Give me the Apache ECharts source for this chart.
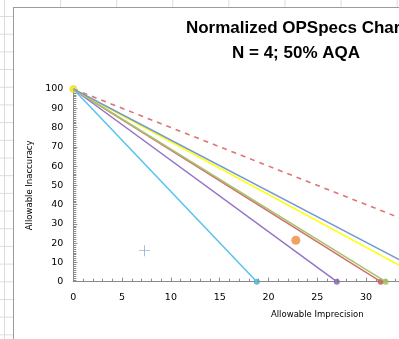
<!DOCTYPE html>
<html>
<head>
<meta charset="utf-8">
<script src="https://cdn.jsdelivr.net/npm/echarts@6/dist/echarts.min.js"></script>
<style>
  html, body { margin: 0; padding: 0; overflow: hidden; width: 399px; height: 339px; }
  body {
    background-color: #fff;
    background-image:
      linear-gradient(to right, #dcdcdc 1px, transparent 1px),
      linear-gradient(to bottom, #dcdcdc 1px, transparent 1px);
    background-size: 56.1px 17.7px;
    background-position: 4px 16px;
  }
  #frame { position: absolute; left: 13px; top: 7px; width: 600px; height: 400px;
           background: #fff; border: 1px solid #9c9c9c; }
  #main { position: absolute; left: 0; top: 0; width: 592px; height: 400px; }
</style>
</head>
<body>
<div id="frame"></div>
<div id="main"></div>
<script>
// x-intercepts of the OPSpecs lines (all start at 0,100)
var lineNames = ['Cyan', 'Purple', 'Red', 'Green', 'Yellow', 'Blue'];
var lineEnds = [18.8, 27, 31.5, 32, 36.5, 37.7];
var lineColors = ['#55c3ef', '#9473c8', '#d2706c', '#a6c46c', '#ffff00', '#7199d6'];
var dotColors = ['#4aa9c4', '#7d61a0', '#c0504d', '#9bbb59', '#e8d800', '#4f81bd'];
var showEndDot = [true, true, true, true, false, false];
// dashed limit line
var dashedEnd = 50;
// single points
var originPoint = [0, 100];
var orangePoint = [22.8, 21.5];
var plusPoint = [7.3, 16.1];

var xTicks = { min: 0, max: 50, interval: 5 };
var yTicks = { min: 0, max: 100, interval: 10 };

var series = [];
series.push({
  type: 'line', symbol: 'none', silent: true,
  data: [[0, 100], [dashedEnd, 0]],
  lineStyle: { color: '#e07474', width: 1.6, type: [5, 5] }
});
lineNames.forEach(function (n, i) {
  series.push({
    name: n, type: 'line', symbol: 'none',
    data: [[0, 100], [lineEnds[i], 0]],
    lineStyle: { color: lineColors[i], width: 1.5 }
  });
  if (showEndDot[i]) {
    series.push({
      type: 'scatter', symbolSize: 6,
      data: [[lineEnds[i], 0]],
      itemStyle: { color: dotColors[i] }
    });
  }
});
series.push({
  type: 'scatter', symbolSize: 7, data: [originPoint],
  itemStyle: { color: '#f2e600', borderColor: '#d8c000', borderWidth: 0.5 }
});
series.push({
  type: 'scatter', symbolSize: 9, data: [orangePoint],
  itemStyle: { color: '#f0883a' }
});
series.push({
  type: 'scatter', symbolSize: 11, data: [plusPoint],
  symbol: 'path://M4.6,0H5.4V4.6H10V5.4H5.4V10H4.6V5.4H0V4.6H4.6Z',
  itemStyle: { color: '#7f9fd6' }
});

var axisFont = { fontFamily: 'DejaVu Sans', fontSize: 9.5, color: '#000' };

var option = {
  animation: false,
  title: {
    text: 'Normalized OPSpecs Chart\nN = 4; 50% AQA',
    left: 'center', top: 16, padding: 0,
    textStyle: { fontFamily: 'Liberation Sans', fontWeight: 'bold', fontSize: 17, lineHeight: 25, color: '#000' }
  },
  grid: { left: 73.3, top: 89, right: 30.7, bottom: 118.3 },
  xAxis: {
    type: 'value', min: xTicks.min, max: xTicks.max, interval: xTicks.interval,
    name: 'Allowable Imprecision', nameLocation: 'middle', nameGap: 29,
    nameTextStyle: { fontFamily: 'DejaVu Sans', fontSize: 8.5, color: '#000' },
    axisLine: { lineStyle: { color: '#8a8a8a', width: 1 } },
    axisTick: { inside: true, length: 4, lineStyle: { color: '#8a8a8a' } },
    minorTick: { show: true, splitNumber: 5, length: 3, lineStyle: { color: '#8a8a8a' } },
    axisLabel: Object.assign({ margin: 11 }, axisFont),
    splitLine: { show: false }
  },
  yAxis: {
    type: 'value', min: yTicks.min, max: yTicks.max, interval: yTicks.interval,
    name: 'Allowable Inaccuracy', nameLocation: 'middle', nameGap: 32,
    nameTextStyle: { fontFamily: 'DejaVu Sans', fontSize: 8.5, color: '#000' },
    axisLine: { show: true, lineStyle: { color: '#8a8a8a', width: 1 } },
    axisTick: { show: true, inside: true, length: 4, lineStyle: { color: '#8a8a8a' } },
    minorTick: { show: true, splitNumber: 10, length: 3, lineStyle: { color: '#8a8a8a' } },
    axisLabel: Object.assign({ margin: 10 }, axisFont),
    splitLine: { show: false }
  },
  series: series
};

var myChart = echarts.init(document.getElementById('main'));
myChart.setOption(option);
</script>
</body>
</html>
